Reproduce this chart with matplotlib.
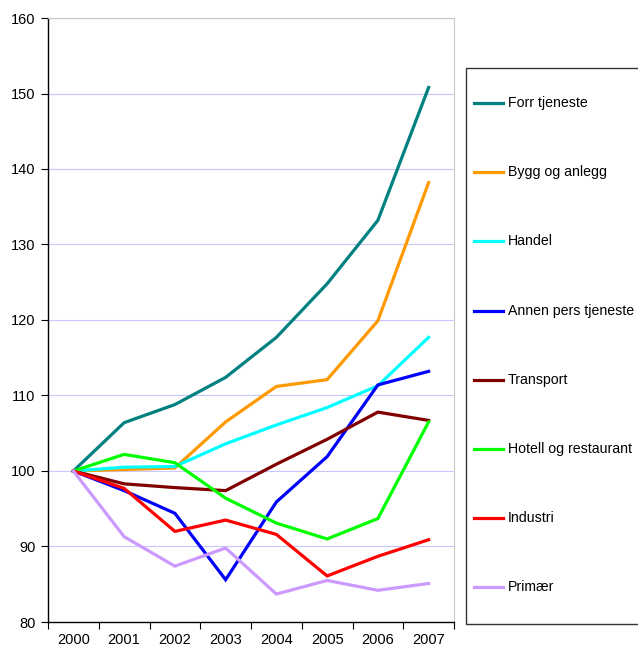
import matplotlib
matplotlib.use("Agg")
import matplotlib.pyplot as plt
from matplotlib.lines import Line2D
from matplotlib.patches import Rectangle

years = ["2000", "2001", "2002", "2003", "2004", "2005", "2006", "2007"]
series_names = ["Forr tjeneste", "Bygg og anlegg", "Handel", "Annen pers tjeneste",
                "Transport", "Hotell og restaurant", "Industri", "Primær"]
forr = [100, 106.4, 108.8, 112.4, 117.7, 124.8, 133.2, 150.8]
bygg = [100, 100.2, 100.4, 106.5, 111.2, 112.1, 119.9, 138.2]
handel = [100, 100.5, 100.6, 103.6, 106.1, 108.4, 111.3, 117.7]
annen = [100, 97.4, 94.4, 85.6, 95.9, 101.9, 111.4, 113.2]
transport = [100, 98.3, 97.8, 97.4, 100.9, 104.2, 107.8, 106.7]
hotell = [100, 102.2, 101.1, 96.4, 93.1, 91.0, 93.7, 106.5]
industri = [100, 97.7, 92.0, 93.5, 91.6, 86.1, 88.7, 90.9]
primaer = [100, 91.3, 87.4, 89.8, 83.7, 85.5, 84.2, 85.1]
all_series = [forr, bygg, handel, annen, transport, hotell, industri, primaer]
colors = ["#008080", "#FF9900", "#00FFFF", "#0000FF", "#800000", "#00FF00", "#FF0000", "#CC99FF"]
yticks = [80, 90, 100, 110, 120, 130, 140, 150, 160]

plt.rcParams['font.family'] = ['Liberation Sans', 'DejaVu Sans']

W, H = 638, 648
fig = plt.figure(figsize=(W / 100, H / 100), dpi=100)
ax = fig.add_axes([48 / W, 1 - 622 / H, (454 - 48) / W, (622 - 18) / H])

x = list(range(len(years)))
for vals, c in zip(all_series, colors):
    ax.plot(x, vals, color=c, lw=2.3, solid_joinstyle='miter', clip_on=False)

ax.set_xlim(-0.5, len(years) - 0.5)
ax.set_ylim(80, 160)
ax.set_yticks(yticks)
ax.set_yticklabels([str(v) for v in yticks], fontsize=10.5)
ax.set_xticks([i - 0.5 for i in range(len(years) + 1)])
ax.set_xticklabels([])
ax.set_xticks(x, minor=True)
ax.set_xticklabels(years, minor=True, fontsize=10.5)
ax.tick_params(axis='x', which='major', direction='out', length=5, width=0.8)
ax.tick_params(axis='x', which='minor', length=0, pad=8)
ax.tick_params(axis='y', direction='out', length=5, width=0.8, pad=4)
ax.grid(axis='y', color='#C8C8FF', lw=0.8)
ax.set_axisbelow(True)
for s in ['top', 'right']:
    ax.spines[s].set_color('#C8C8C8')
    ax.spines[s].set_linewidth(0.8)
for s in ['left', 'bottom']:
    ax.spines[s].set_color('black')
    ax.spines[s].set_linewidth(1.0)

# manual legend
fig.patches.append(Rectangle((466 / W, 1 - 624 / H), (700 - 466) / W, (624 - 68) / H,
                             transform=fig.transFigure, facecolor='white',
                             edgecolor='#333333', lw=1.0))
y0, dy = 103, 69.2
for i, (name, c) in enumerate(zip(series_names, colors)):
    yy = 1 - (y0 + i * dy) / H
    fig.lines.append(Line2D([474 / W, 503 / W], [yy, yy], transform=fig.transFigure,
                            color=c, lw=2.3))
    fig.text(508 / W, yy, name, fontsize=10.2, va='center', ha='left')

fig.savefig("out.png", dpi=100)
